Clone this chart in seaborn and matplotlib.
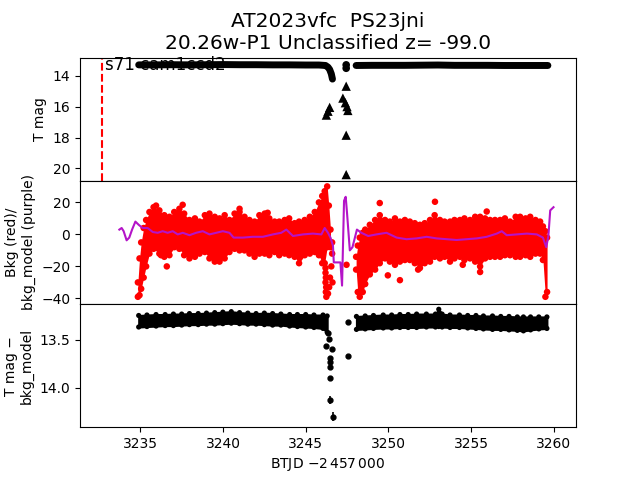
import numpy as np
import pandas as pd
import matplotlib
matplotlib.use("Agg")
import matplotlib.pyplot as plt
import seaborn as sns

title = "AT2023vfc  PS23jni\n20.26w-P1 Unclassified z= -99.0"
sector_label = "s71 cam1ccd2"
sector_start = 3232.7

# ---- top panel: T mag (circles = detections, triangles = limits)
top_t1 = [3234.9, 3236.0, 3237.0, 3238.0, 3239.0, 3240.0, 3241.0, 3242.0, 3243.0,
          3244.0, 3245.0, 3245.8, 3246.2, 3246.35, 3246.45, 3246.55, 3246.62]
top_m1 = [13.30, 13.30, 13.29, 13.30, 13.29, 13.28, 13.29, 13.29, 13.30,
          13.30, 13.31, 13.31, 13.34, 13.45, 13.6, 13.88, 14.22]
top_t2 = [3248.05, 3249.0, 3250.0, 3251.0, 3252.0, 3253.0, 3254.0, 3255.0,
          3256.0, 3257.0, 3258.0, 3259.0, 3259.65]
top_m2 = [13.34, 13.33, 13.33, 13.33, 13.32, 13.31, 13.33, 13.33,
          13.33, 13.34, 13.34, 13.34, 13.34]
top_dot_t = [3247.45, 3247.45]
top_dot_m = [13.3, 13.52]
lim_t = [3246.25, 3246.35, 3246.45, 3247.25, 3247.4, 3247.45, 3247.5, 3247.55, 3247.45, 3247.45]
lim_m = [16.55, 16.3, 16.05, 15.45, 15.75, 14.68, 16.0, 16.25, 17.85, 20.4]

# ---- middle panel: background (red cloud envelope) and bkg model (purple)
red_t1 = [3234.85, 3234.95, 3235.05, 3235.2, 3235.35, 3235.55, 3235.8, 3236.15, 3236.45, 3236.76,
          3237.05, 3237.36, 3237.65, 3237.97, 3238.3, 3238.58, 3238.9, 3239.18, 3239.5,
          3239.79, 3240.1, 3240.39, 3240.7, 3241.0, 3241.3, 3241.6, 3241.91, 3242.2,
          3242.52, 3242.8, 3243.12, 3243.4, 3243.73, 3244.0, 3244.33, 3244.6, 3244.94,
          3245.25, 3245.55, 3245.8, 3246.0, 3246.15, 3246.3, 3246.4, 3246.5]
red_hi1 = [-30, -15, -5, 4, 9, 14, 17, 15, 12, 11, 14, 16, 13, 9, 10, 8, 12, 13, 11,
           10, 12, 9, 13, 14, 11, 9, 8, 12, 13, 10, 8, 8, 9, 10, 7, 8, 9,
           11, 14, 20, 24, 27, 30, 18, 3]
red_lo1 = [-39, -38, -34, -27, -20, -12, -9, -12, -14, -13, -8, -9, -13, -15, -14, -12, -11, -15, -17,
           -17, -15, -11, -9, -10, -10, -12, -14, -12, -12, -13, -11, -13, -12, -13, -14, -18, -13,
           -12, -11, -13, -18, -18, -8, -5, -8]
red_t2 = [3248.05, 3248.15, 3248.27, 3248.45, 3248.6, 3248.88, 3249.2, 3249.48, 3249.8,
          3250.09, 3250.4, 3250.7, 3251.0, 3251.3, 3251.6, 3251.91, 3252.2, 3252.52, 3252.8,
          3253.12, 3253.4, 3253.73, 3254.0, 3254.33, 3254.6, 3254.94, 3255.25, 3255.55,
          3255.85, 3256.15, 3256.45, 3256.76, 3257.05, 3257.36, 3257.7, 3257.97, 3258.3,
          3258.58, 3258.9, 3259.18, 3259.35, 3259.5, 3259.6]
red_hi2 = [-14, -7, -2, 1, 3, 6, 9, 12, 9, 8, 10, 8, 9, 8, 7, 6, 7, 9, 12,
           9, 8, 8, 9, 9, 10, 9, 11, 11, 10, 9, 9, 9, 10, 8, 11, 11, 10,
           11, 9, 8, 5, 2, -2]
red_lo2 = [-22, -36, -39, -36, -31, -25, -22, -18, -15, -17, -19, -17, -16, -16, -18, -21, -18, -17, -14,
           -15, -14, -17, -15, -14, -16, -15, -17, -20, -15, -14, -14, -14, -13, -13, -14, -14, -13,
           -14, -12, -12, -16, -39, -36]
red_xt = [3246.2, 3246.2, 3246.22, 3246.2, 3246.24, 3246.22, 3246.25, 3246.35, 3246.42,
          3246.47, 3246.55, 3246.6, 3246.6, 3246.62, 3235.95, 3236.25, 3236.6, 3237.56,
          3241.0, 3242.7, 3249.48, 3252.82, 3255.95, 3249.97, 3250.7, 3251.8, 3255.55,
          3254.5, 3247.47]
red_xv = [-21, -24, -27, -30, -33, -36, -39, -37, -33, -27, -20, -12, -5, -30, 18, -13, -20, 18.5,
          16, 13.5, 19.6, 20.4, 14.3, -25.6, -28.6, -22, -23.5, -19, -19]

bkg_t = [3233.73, 3233.87, 3233.99, 3234.17, 3234.33, 3234.5, 3234.7, 3234.9, 3235.14,
         3235.44, 3235.75, 3236.05, 3236.35, 3236.65, 3236.96, 3237.26, 3237.57, 3237.97,
         3238.37, 3238.78, 3239.18, 3239.59, 3239.99, 3240.39, 3240.64, 3241.2, 3241.8,
         3242.41, 3243.02, 3243.52, 3243.83, 3244.23, 3244.84, 3245.44, 3245.95, 3246.15,
         3246.35, 3246.5, 3246.65, 3246.7, 3247.1, 3247.2, 3247.32, 3247.42, 3247.5,
         3247.67, 3247.83, 3248.1, 3248.37, 3248.78, 3249.28, 3249.89, 3250.5, 3251.1,
         3251.71, 3252.32, 3252.92, 3253.53, 3254.13, 3254.74, 3255.35, 3255.95, 3256.56,
         3256.86, 3257.16, 3257.77, 3258.38, 3258.98, 3259.35, 3259.55, 3259.68, 3259.79,
         3259.99]
bkg_v = [3, 4, 2, -3.7, -2, 3, 8, 6, 4,
         4, 1.5, 1, 2, 1, 2, 0, 1, -0.5,
         1, 2, 0, 1, 2, 1, -2, -2, -1.5,
         -1.5, 0, 1, 3, -1, 0, 0.5, 0, 4,
         1, -2, -7, -17.5, -17.5, -32, 21, 23.5, 13.5,
         -10, -8, 3, 1, -1, 0, 1, -2, -3,
         -2.5, -1.5, -2.5, -3, -3.5, -3, -2.5, -1.5, 0.5,
         2, -0.5, 0, 0.5, 0, -2, -8, -1, 15,
         17]

# ---- bottom panel: T mag - bkg_model (band edges)
bot_t1 = [3234.9, 3235.4, 3235.95, 3236.5, 3237.0, 3237.5, 3237.97, 3238.5, 3239.0, 3239.5,
          3239.99, 3240.5, 3241.0, 3241.5, 3242.0, 3242.5, 3243.0, 3243.5, 3244.03, 3244.5,
          3245.0, 3245.5, 3246.05, 3246.3]
bot_hi1 = [13.245, 13.24, 13.235, 13.235, 13.23, 13.23, 13.225, 13.225, 13.22, 13.215,
           13.21, 13.205, 13.215, 13.22, 13.225, 13.22, 13.225, 13.23, 13.235, 13.235,
           13.235, 13.24, 13.24, 13.25]
bot_lo1 = [13.365, 13.36, 13.355, 13.35, 13.35, 13.345, 13.34, 13.34, 13.335, 13.335,
           13.33, 13.325, 13.33, 13.335, 13.335, 13.34, 13.345, 13.345, 13.355, 13.36,
           13.365, 13.37, 13.38, 13.42]
bot_t2 = [3248.07, 3248.6, 3249.1, 3249.69, 3250.2, 3250.7, 3251.2, 3251.71, 3252.3, 3252.85,
          3253.05, 3253.25, 3253.73, 3254.3, 3254.8, 3255.3, 3255.75, 3256.3, 3256.8, 3257.3,
          3257.8, 3258.17, 3258.6, 3259.1, 3259.59]
bot_hi2 = [13.255, 13.25, 13.245, 13.24, 13.24, 13.235, 13.235, 13.23, 13.23, 13.23,
           13.18, 13.23, 13.24, 13.24, 13.245, 13.245, 13.25, 13.25, 13.255, 13.255,
           13.26, 13.26, 13.26, 13.26, 13.26]
bot_lo2 = [13.39, 13.385, 13.38, 13.375, 13.375, 13.37, 13.37, 13.37, 13.365, 13.365,
           13.36, 13.365, 13.37, 13.37, 13.375, 13.38, 13.385, 13.39, 13.39, 13.395,
           13.4, 13.405, 13.395, 13.385, 13.38]
dip_t = [3246.35, 3246.43, 3246.2, 3246.6, 3246.45, 3246.45, 3246.46, 3246.47, 3246.47, 3246.64,
         3247.53, 3247.53]
dip_m = [13.43, 13.49, 13.56, 13.59, 13.69, 13.73, 13.78, 13.90, 14.125, 14.30, 13.31, 13.67]
dip_e = [0.005, 0.005, 0.005, 0.006, 0.01, 0.01, 0.012, 0.015, 0.04, 0.045, 0.005, 0.01]

purple = "#b414c8"

fig, (ax1, ax2, ax3) = plt.subplots(3, 1, sharex=True, figsize=(6.4, 4.8), dpi=100)
fig.subplots_adjust(hspace=0)

# top
ax1.axvline(sector_start, color="red", ls="--", lw=1.5)
ax1.text(sector_start + 0.15, 13.62, sector_label, fontsize=12, zorder=1)
for tt, mm in [(top_t1, top_m1), (top_t2, top_m2)]:
    sns.lineplot(x=tt, y=mm, ax=ax1, color="k", lw=5, sort=False, estimator=None,
                 solid_capstyle="round", solid_joinstyle="round")
sns.scatterplot(x=top_dot_t, y=top_dot_m, ax=ax1, color="k", s=30, edgecolor="none")
sns.scatterplot(x=lim_t, y=lim_m, ax=ax1, color="k", marker="^", s=45, edgecolor="none")
ax1.set_ylim(20.8, 12.83)
ax1.set_ylabel("T mag")
ax1.set_title(title, fontsize=14.5)

# middle
for tt, hi, lo in [(red_t1, red_hi1, red_lo1), (red_t2, red_hi2, red_lo2)]:
    ax2.fill_between(tt, lo, hi, color="red", lw=0)
    sns.scatterplot(x=tt + tt, y=hi + lo, ax=ax2, color="red", s=22, edgecolor="none")
sns.scatterplot(x=red_xt, y=red_xv, ax=ax2, color="red", s=22, edgecolor="none")
sns.lineplot(x=bkg_t, y=bkg_v, ax=ax2, color=purple, lw=1.5, sort=False, estimator=None)
ax2.set_ylim(-43.5, 33.5)
ax2.set_ylabel("Bkg (red)/\nbkg_model (purple)")

# bottom
for tt, hi, lo in [(bot_t1, bot_hi1, bot_lo1), (bot_t2, bot_hi2, bot_lo2)]:
    ax3.fill_between(tt, lo, hi, facecolor="k", edgecolor="k", lw=1.5, joinstyle="round")
    sns.scatterplot(x=tt + tt, y=hi + lo, ax=ax3, color="k", s=14, edgecolor="none")
ax3.errorbar(dip_t, dip_m, yerr=dip_e, fmt="o", color="k", ms=3.5, elinewidth=1.2, capsize=0)
ax3.set_ylim(14.41, 13.125)
ax3.set_yticks([13.5, 14.0])
ax3.set_ylabel("T mag \u2212\nbkg_model")
ax3.set_xlim(3231.35, 3261.35)
ax3.set_xticks([3235, 3240, 3245, 3250, 3255, 3260])
ax3.set_xlabel("BTJD $-2\\,457\\,000$")

fig.savefig("out.png", dpi=100)
